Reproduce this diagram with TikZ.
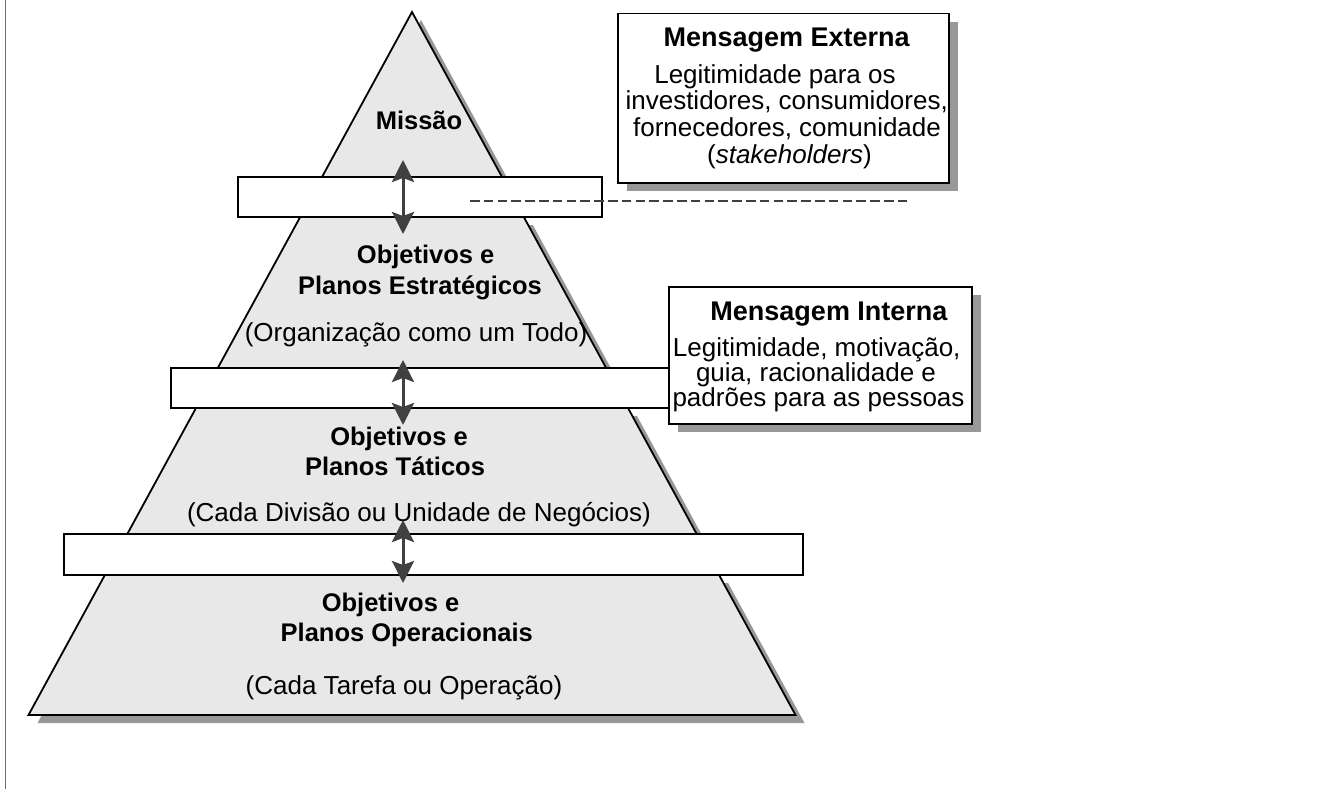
\documentclass[tikz,border=0pt]{standalone}
\usepackage{fontspec}
\setmainfont{Liberation Sans}
\usetikzlibrary{arrows.meta,shadows}
\definecolor{pyrfill}{RGB}{232,232,232}
\definecolor{shadowc}{RGB}{152,152,152}
\definecolor{arrowc}{RGB}{64,64,64}
\definecolor{framec}{RGB}{110,110,110}
\begin{document}
\begin{tikzpicture}[x=1pt,y=-1pt,
  piece/.style={fill=pyrfill,draw=black,line width=1.8pt,line join=miter},
  pshadow/.style={fill=shadowc,shift={(9,8)}},
  band/.style={fill=white,draw=black,line width=1.5pt},
  msgbox/.style={fill=white,draw=black,line width=1.5pt,inner sep=0pt,anchor=north west,
    drop shadow={shadow xshift=9pt,shadow yshift=-8pt,fill=shadowc,opacity=1}},
  dblarrow/.style={draw=arrowc,line width=3pt,
    {Stealth[length=22pt,width=22pt,inset=4pt]}-{Stealth[length=22pt,width=22pt,inset=4pt]}},
  dashline/.style={draw=arrowc,line width=1.7pt,dash pattern=on 9.5pt off 4.3pt},
  bt/.style={font=\fontsize{25.5pt}{30pt}\selectfont\bfseries,inner sep=0pt,anchor=base},
  rt/.style={font=\fontsize{26pt}{30pt}\selectfont,inner sep=0pt,anchor=base},
  tt/.style={font=\fontsize{27pt}{31pt}\selectfont\bfseries,inner sep=0pt,anchor=base}
]
\useasboundingbox (0,0) rectangle (1320,789);
\fill[white] (0,0) rectangle (1320,789);
\draw[framec,line width=1.3pt] (5.5,0) -- (5.5,789);

% pyramid shadows
\fill[pshadow] (412,12) -- (502,177) -- (322,177) -- cycle;
\fill[pshadow] (300.2,217) -- (523.8,217) -- (606.2,368) -- (217.8,368) -- cycle;
\fill[pshadow] (196,408) -- (628,408) -- (696.7,534) -- (127.3,534) -- cycle;
\fill[pshadow] (104.9,575) -- (719.1,575) -- (795.5,715) -- (28.5,715) -- cycle;
% pyramid pieces
\draw[piece] (412,12) -- (502,177) -- (322,177) -- cycle;
\draw[piece] (300.2,217) -- (523.8,217) -- (606.2,368) -- (217.8,368) -- cycle;
\draw[piece] (196,408) -- (628,408) -- (696.7,534) -- (127.3,534) -- cycle;
\draw[piece] (104.9,575) -- (719.1,575) -- (795.5,715) -- (28.5,715) -- cycle;
% bands
\draw[band] (238,177) rectangle (602,217);
\draw[band] (171,368) rectangle (700,408);
\draw[band] (64,534) rectangle (803,575);

% pyramid texts
\node[bt] (missao) at (419,130) {Missão};
\node[bt] (estA) at (425.7,263) {Objetivos e};
\node[bt] (estB) at (420,294) {Planos Estratégicos};
\node[rt] (estC) at (416,341) {(Organização como um Todo)};
\node[bt] (tatA) at (399,445) {Objetivos e};
\node[bt] (tatB) at (395,475.5) {Planos Táticos};
\node[rt] (tatC) at (419,521.7) {(Cada Divisão ou Unidade de Negócios)};
\node[bt] (opA) at (390.5,611.7) {Objetivos e};
\node[bt] (opB) at (406.8,641) {Planos Operacionais};
\node[rt] (opC) at (404,694) {(Cada Tarefa ou Operação)};

% arrows
\coordinate (a1t) at (403,160);
\coordinate (a1b) at (403,234);
\coordinate (a2t) at (403,360);
\coordinate (a2b) at (403,425);
\coordinate (a3t) at (403,520);
\coordinate (a3b) at (403,583);
\draw[dblarrow] (a1t) -- (a1b);
\draw[dblarrow] (a2t) -- (a2b);
\draw[dblarrow] (a3t) -- (a3b);

% dashed line
\coordinate (d1) at (470,201);
\coordinate (d2) at (911,201);
\draw[dashline] (d1) -- (d2);

% message boxes
\node[msgbox,minimum width=331pt,minimum height=169pt] (ext) at (617,13) {};
\node[msgbox,minimum width=303pt,minimum height=137pt] (int) at (668,286) {};

\node[tt] (extT) at (786.7,46.7) {Mensagem Externa};
\node[rt] (extA) at (775,83.3) {Legitimidade para os};
\node[rt] (extB) at (786.7,110) {investidores, consumidores,};
\node[rt] (extC) at (787,136.7) {fornecedores, comunidade};
\node[rt] (extD) at (789.5,163.3) {(\textit{stakeholders})};

\node[tt] (intT) at (829,320) {Mensagem Interna};
\node[rt] (intA) at (816.7,356) {Legitimidade, motivação,};
\node[rt] (intB) at (816,381.7) {guia, racionalidade e};
\node[rt] (intC) at (818.5,406.7) {padrões para as pessoas};
\end{tikzpicture}
\end{document}
